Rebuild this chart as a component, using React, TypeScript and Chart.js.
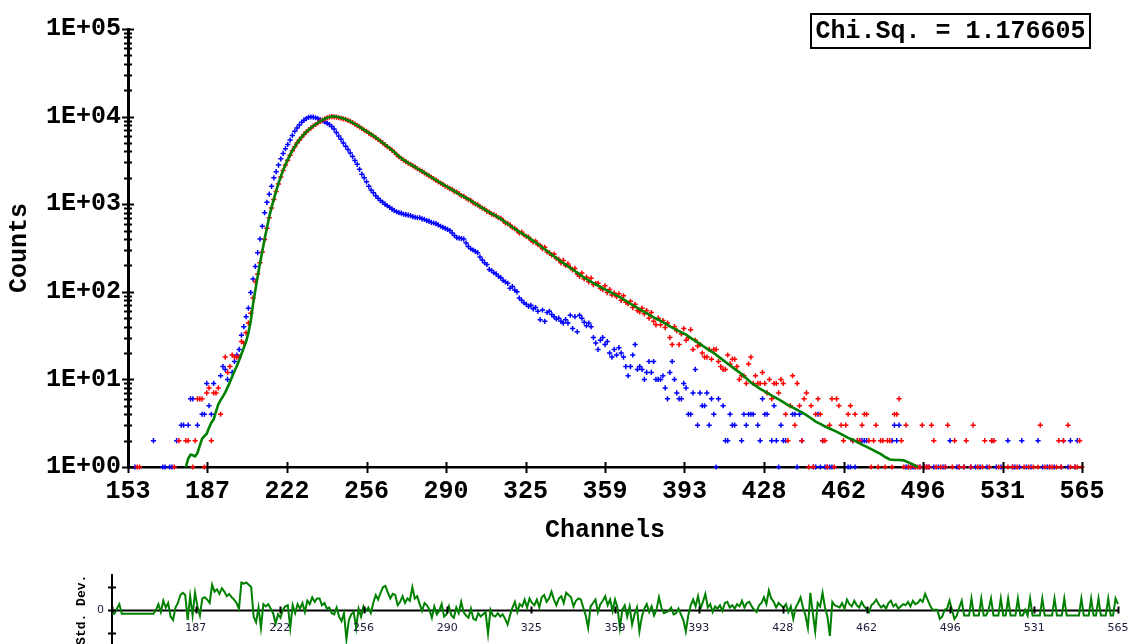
import React, { useEffect, useRef } from 'react';
import { Chart, registerables } from 'chart.js';
Chart.register(...registerables);

const FIRST_CHANNEL = 153;
const LAST_CHANNEL = 565;

const xTickValues = [153, 187.33, 221.67, 256, 290.33, 324.67, 359, 393.33, 427.67, 462, 496.33, 530.67, 565];
const xTickLabels = ['153', '187', '222', '256', '290', '325', '359', '393', '428', '462', '496', '531', '565'];
const yTickValues = [1, 10, 100, 1000, 10000, 100000];
const yTickLabels = ['1E+00', '1E+01', '1E+02', '1E+03', '1E+04', '1E+05'];
const resYTickValues = [-2, 0, 2];
const resYTickLabels = ['', '0', ''];
const chiSqText = 'Chi.Sq. = 1.176605';

// Instrument response (blue), one value per channel starting at 153
const irfCounts = [
  0, 0, 0, 1, 0, 0, 0, 0, 0, 0,
  0, 2, 0, 0, 0, 1, 1, 0, 1, 1,
  0, 2, 0, 3, 3, 0, 3, 6, 6, 0,
  3, 0, 4, 4, 9, 5, 4, 9, 0, 0,
  11, 14, 13, 10, 0, 12, 16, 19, 22, 32,
  40, 52, 65, 98, 140, 195, 280, 400, 560, 800,
  1050, 1300, 1600, 2000, 2350, 2800, 3300, 3800, 4300, 4800,
  5400, 6100, 6800, 7400, 8000, 8600, 9100, 9500, 9800, 9900,
  9850, 9700, 9500, 9200, 8950, 8700, 8400, 8100, 7700, 7200,
  6600, 6000, 5500, 5000, 4600, 4200, 3850, 3500, 3150, 2850,
  2500, 2200, 2000, 1800, 1600, 1450, 1350, 1250, 1170, 1100,
  1050, 1000, 960, 920, 880, 850, 820, 800, 790, 770,
  760, 750, 740, 720, 710, 700, 700, 680, 670, 650,
  640, 620, 610, 600, 580, 560, 545, 530, 515, 500,
  470, 440, 415, 410, 405, 400, 360, 330, 310, 300,
  290, 280, 250, 230, 215, 205, 180, 175, 165, 160,
  150, 145, 135, 130, 125, 110, 115, 105, 100, 85,
  80, 75, 72, 68, 70, 64, 66, 60, 48, 62,
  46, 58, 60, 55, 52, 49, 50, 46, 44, 48,
  44, 54, 38, 52, 35, 54, 50, 45, 41, 44,
  40, 30, 26, 22, 28, 30, 25, 27, 20, 18,
  22, 19, 23, 20, 18, 14, 11, 14, 19, 25,
  13, 14, 13, 10, 12, 16, 12, 16, 10, 10,
  10, 11, 8, 6, 12, 16, 10, 7, 6, 6,
  9, 8, 4, 4, 7, 13, 3, 7, 5, 5,
  7, 3, 6, 4, 1, 6, 0, 5, 2, 2,
  4, 3, 3, 0, 0, 2, 4, 3, 4, 4,
  4, 0, 3, 2, 6, 4, 4, 0, 2, 5,
  2, 1, 3, 2, 2, 0, 0, 4, 4, 1,
  4, 2, 0, 0, 0, 0, 1, 1, 4, 1,
  2, 1, 1, 1, 1, 0, 0, 0, 0, 0,
  0, 1, 1, 2, 1, 2, 2, 2, 2, 2,
  0, 0, 0, 0, 0, 0, 0, 0, 0, 0,
  2, 3, 2, 3, 0, 0, 1, 1, 1, 1,
  1, 0, 1, 0, 1, 1, 1, 0, 1, 0,
  1, 0, 1, 1, 0, 2, 0, 0, 1, 1,
  0, 1, 0, 0, 1, 0, 1, 0, 1, 0,
  0, 1, 0, 2, 0, 1, 0, 1, 0, 0,
  2, 0, 1, 1, 0, 1, 2, 0, 1, 0,
  1, 0, 0, 2, 0, 1, 0, 1, 1, 0,
  1, 0, 0, 1, 2, 0, 1, 2, 0, 1,
  2, 0, 0,
];

// Measured decay (red), one value per channel starting at 153
const decayCounts = [
  0, 0, 0, 0, 1, 1, 0, 0, 0, 0,
  0, 0, 0, 0, 0, 0, 0, 0, 0, 0,
  1, 0, 2, 0, 0, 2, 2, 0, 1, 2,
  6, 6, 6, 1, 7, 8, 2, 7, 7, 8,
  4, 0, 18, 12, 14, 19, 18, 18, 18, 27,
  26, 34, 44, 57, 85, 130, 160, 215, 285, 395,
  530, 700, 905, 1130, 1400, 1700, 2050, 2420, 2800, 3180,
  3620, 4080, 4520, 4980, 5400, 5830, 6260, 6680, 7050, 7420,
  7780, 8130, 8480, 8820, 9120, 9430, 9680, 9850, 9980, 9930,
  9850, 9700, 9580, 9420, 9260, 9050, 8800, 8520, 8200, 7900,
  7650, 7330, 7020, 6780, 6480, 6230, 5980, 5740, 5480, 5250,
  5000, 4780, 4540, 4340, 4140, 3930, 3690, 3480, 3340, 3190,
  3060, 2940, 2850, 2740, 2650, 2540, 2450, 2370, 2280, 2190,
  2110, 2040, 1950, 1880, 1800, 1740, 1680, 1610, 1570, 1500,
  1480, 1390, 1370, 1320, 1250, 1230, 1170, 1130, 1110, 1040,
  1010, 990, 935, 900, 880, 830, 815, 770, 760, 735,
  700, 690, 650, 610, 600, 580, 540, 530, 500, 470,
  480, 445, 430, 420, 390, 372, 380, 345, 340, 310,
  322, 285, 280, 262, 270, 240, 235, 214, 228, 200,
  208, 190, 178, 185, 160, 150, 164, 140, 147, 130,
  143, 121, 124, 125, 110, 106, 117, 98, 106, 92,
  97, 88, 95, 80, 90, 76, 73, 78, 66, 72,
  61, 59, 65, 56, 61, 50, 58, 46, 42, 50,
  42, 47, 39, 44, 30, 25, 40, 36, 25, 33,
  38, 28, 30, 37, 22, 28, 24, 25, 20, 18,
  18, 22, 17, 22, 22, 16, 14, 13, 13, 19,
  15, 17, 17, 14, 10, 11, 11, 9, 15, 18,
  9, 11, 9, 9, 12, 9, 7, 10, 6, 9,
  9, 7, 10, 9, 4, 2, 5, 11, 3, 9,
  5, 2, 6, 7, 1, 5, 1, 4, 6, 4,
  2, 2, 1, 3, 6, 1, 6, 5, 3, 2,
  3, 4, 5, 2, 4, 2, 2, 3, 4, 4,
  2, 1, 2, 3, 1, 2, 2, 1, 2, 2,
  1, 4, 4, 6, 2, 1, 3, 1, 1, 0,
  1, 1, 1, 3, 1, 1, 1, 3, 2, 1,
  0, 1, 0, 1, 3, 0, 1, 2, 0, 1,
  0, 1, 2, 0, 1, 3, 0, 1, 0, 1,
  2, 0, 1, 2, 2, 0, 1, 0, 1, 0,
  1, 0, 1, 0, 1, 0, 0, 1, 0, 1,
  0, 1, 0, 1, 3, 0, 1, 0, 1, 1,
  0, 1, 2, 1, 2, 0, 3, 1, 0, 1,
  1, 2, 1,
];

// Fitted curve (green)
const fitChannels = [
  178, 179, 180, 181, 182, 183, 184, 185, 186, 187, 188, 189, 190, 191, 192, 193, 194, 195, 196, 197,
  198, 199, 200, 201, 202, 203, 204, 205, 206, 207, 208, 209, 210, 211, 212, 213, 214, 215, 216, 217,
  218, 219, 220, 221, 222, 223, 224, 225, 226, 227, 228, 229, 230, 231, 232, 233, 234, 235, 236, 237,
  238, 239, 240, 241, 242, 243, 244, 245, 246, 247, 248, 249, 250, 251, 252, 253, 254, 255, 256, 257,
  258, 260, 262, 264, 266, 268, 270, 272, 274, 276, 278, 280, 282, 284, 286, 288, 290, 292, 294, 296,
  298, 300, 302, 304, 306, 308, 310, 312, 314, 316, 318, 320, 322, 324, 326, 328, 330, 332, 334, 336,
  338, 340, 342, 344, 346, 348, 350, 352, 354, 356, 358, 360, 362, 364, 366, 368, 370, 372, 374, 376,
  378, 380, 382, 384, 386, 388, 390, 392, 394, 396, 398, 400, 402, 404, 406, 408, 410, 412, 414, 416,
  418, 420, 422, 424, 426, 428, 430, 432, 434, 436, 438, 440, 442, 444, 446, 448, 450, 452, 454, 456,
  458, 460, 462, 464, 466, 468, 470, 472, 474, 476, 478, 480, 482, 484, 486, 488, 490, 492, 494,
];
const fitCounts = [
  1.0, 1.25, 1.38, 1.36, 1.32, 1.45, 1.75, 2.1, 2.25, 2.4, 2.8, 3.2, 3.5, 4.3, 5.2, 5.8, 6.4, 7.1, 8.1, 9.3,
  10.8, 12.5, 14.2, 16.5, 19.5, 23, 27, 34, 46, 72, 105, 150, 210, 290, 400, 540, 720, 920, 1150, 1420,
  1730, 2080, 2450, 2830, 3230, 3660, 4100, 4550, 5000, 5430, 5860, 6280, 6700, 7080, 7450, 7800, 8150, 8500, 8850, 9150,
  9450, 9700, 9900, 10020, 10050, 9980, 9850, 9680, 9500, 9300, 9100, 8820, 8550, 8230, 7920, 7640, 7350, 7070, 6800, 6550,
  6300, 5800, 5270, 4800, 4350, 3950, 3520, 3210, 2960, 2750, 2550, 2380, 2200, 2030, 1880, 1750, 1630, 1515, 1410, 1303,
  1220, 1143, 1060, 977, 906, 840, 782, 730, 679, 622, 571, 525, 484, 450, 416, 382, 351, 320, 292, 266,
  243, 222, 204, 188, 173, 158, 145, 135, 126, 118, 110, 103, 97, 91, 85, 79, 73, 68, 63, 59,
  55, 51, 48, 45, 42, 39, 36.7, 34.5, 32.4, 29.8, 27.5, 25.4, 23.4, 21.6, 20, 18.2, 16.6, 15.1, 13.8, 12.6,
  11.5, 10.3, 9.2, 8.5, 7.8, 7.3, 6.8, 6.3, 5.9, 5.5, 5.1, 4.8, 4.5, 4.2, 3.9, 3.6, 3.3, 3.1, 2.9, 2.75,
  2.6, 2.45, 2.3, 2.15, 2.05, 1.92, 1.8, 1.7, 1.6, 1.5, 1.41, 1.3, 1.22, 1.2, 1.2, 1.19, 1.13, 1.07, 1.0,
];

// Weighted residuals (std. dev.), one value per channel starting at 153
const residuals = [
  -0.35, -0.35, 0.1, 0.5, -0.35, -0.35, -0.35, -0.35, -0.35, -0.35,
  -0.35, -0.35, -0.35, -0.35, -0.35, -0.35, -0.35, -0.35, 0.0, 0.5,
  -0.2, 0.8, 0.2, 0.6, -0.6, -0.9, 0.2, 0.6, 1.3, 1.5,
  1.3, -0.9, 1.2, -0.5, 1.5, 0.3, -0.5, 1.0, 1.1, 0.9,
  0.6, 2.2, 1.6, 1.8, 1.4, 1.9, 1.6, 1.2, 1.4, 1.1,
  0.9, 0.6, 0.1, 2.4, 2.3, 2.4, 2.2, 2.0, -0.6, -1.1,
  0.2, -1.6, 0.5, 0.3, 0.5, 0.1, -0.3, -1.2, -0.4, -0.7,
  0.0, 0.3, 0.4, -1.6, 0.4, -0.3, 0.5, 0.1, 0.6, -0.2,
  0.8, 0.5, 1.1, 0.7, 1.0, 1.0, 0.4, 0.6, 0.1, 0.2,
  -0.3, -0.4, 0.2, -0.6, -1.0, -0.3, -2.6, -0.9, -0.4, -0.2,
  -1.6, 0.1, -0.6, 0.3, -0.1, 0.2, -0.3, 0.6, 1.3, 0.9,
  1.5, 2.0, 2.1, 1.5, 1.0, 1.4, 1.3, 0.4, 0.7, 1.2,
  0.6, 1.0, 0.8, 2.0, 1.0, 1.2, 0.5, -0.1, 0.6, 0.4,
  0.0, -0.7, 0.3, -0.4, -0.1, 0.5, -0.6, -0.4, 0.3, -0.5,
  -0.7, 0.2, -0.3, 0.7, -0.2, -0.5, -0.7, 0.1, -0.8, -0.9,
  -0.3, -0.6, -0.4, -0.2, -2.1, 0.0, -0.5, -0.6, -0.3, -0.6,
  -0.4, -0.8, -1.3, -0.5, 0.2, 0.7, -0.2, 0.5, 0.3, 0.9,
  0.2, 1.0, 0.6, 0.4, 0.9, 0.2, 1.1, 1.3, 0.7, 1.0,
  1.6, 0.9, 0.4, 1.0, 1.2, 0.6, 1.5, 1.3, 1.1, 0.3,
  0.8, 1.0, 0.9, 0.2, -0.5, -1.6, 0.3, 0.6, 0.9, -0.2,
  0.5, 0.8, 1.2, 0.4, 0.9, -0.1, 0.9, 0.2, -1.6, 0.0,
  0.4, -0.6, 0.3, -1.3, -0.4, 0.2, -1.9, -0.6, 0.1, 0.5,
  -0.2, 0.3, -0.5, 0.0, 1.1, 0.2, -0.3, -0.2, -0.1, 0.2,
  -0.4, -0.3, 0.1, -0.4, -0.9, -1.9, -0.5, 0.4, 0.9, 0.3,
  1.2, 0.1, 0.7, 1.4, 0.2, 0.5, -0.2, 0.3, 0.1, 0.4,
  -0.1, 0.6, 0.7, 0.2, 0.4, 0.1, 0.5, 0.3, 0.8, 0.2,
  0.6, 0.7, 0.3, 0.0, -0.2, 0.4, 0.6, 1.1, 0.5, 1.7,
  1.0, 0.7, 0.2, 0.6, 0.4, 0.2, 0.5, -0.2, 0.3, -0.8,
  0.2, 0.6, 1.1, 0.2, -0.5, -1.6, 1.5, -0.3, -1.9, 0.6,
  0.3, 1.5, 0.2, -0.6, -2.3, 0.7, 0.4, 0.3, 0.2, 0.6,
  0.1, 0.9, 0.5, 0.3, 0.8, 0.4, 0.2, 0.7, 0.3, 0.1,
  -0.2, 0.4, 0.6, 0.9, 0.5, 0.2, 0.4, 0.1, 0.6, 0.8,
  0.3, 0.5, 0.1, 0.3, 0.5, 0.4, 0.7, 0.3, 0.8, 0.5,
  0.6, 0.9, 0.7, 1.4, 0.9, 0.4, 0.0, 0.0, 0.0, -0.8,
  -0.6, 0.0, 0.1, 0.8, 0.0, -0.8, -0.5, 0.2, 0.8, -0.5,
  -0.5, -0.5, 1.0, -0.5, -0.5, -0.5, 1.0, -0.5, -0.5, 0.0,
  1.0, -0.5, -0.5, -0.5, 1.0, -0.5, -0.5, 1.0, -0.5, -0.5,
  -0.5, 1.0, -0.5, -0.5, 0.0, -0.5, 1.0, -0.5, -0.5, -0.5,
  -0.5, 1.0, -0.5, -0.5, -0.5, -0.5, 1.0, -0.5, -0.5, -0.5,
  1.0, -0.5, -0.5, -0.5, -0.5, -0.5, -0.5, 1.0, -0.5, -0.5,
  -0.5, 1.0, -0.5, -0.5, 1.0, -0.5, -0.5, -0.5, 1.0, -0.5,
  -0.5, 1.0, 0.5,
];

const MONO = '"Liberation Mono", "Courier New", monospace';
const GREEN = '#008000';

const countPoints = (arr: number[]) =>
  arr
    .map((v, i) => ({ x: FIRST_CHANNEL + i, y: v }))
    .filter((p) => p.y > 0);

const mainDecor = {
  id: 'mainDecor',
  afterDraw(chart: any) {
    const { ctx, scales } = chart;
    const x = scales.x;
    const y = scales.y;
    ctx.save();
    ctx.strokeStyle = '#000';
    ctx.lineWidth = 2;
    const yb = y.getPixelForValue(yTickValues[0]);
    xTickValues.forEach((v) => {
      const px = Math.round(x.getPixelForValue(v)) + 0.5;
      ctx.beginPath();
      ctx.moveTo(px, yb - 5);
      ctx.lineTo(px, yb + 6);
      ctx.stroke();
    });
    const xl = x.getPixelForValue(FIRST_CHANNEL);
    for (let d = 0; d < yTickValues.length; d++) {
      const base = yTickValues[d];
      const top = d === yTickValues.length - 1 ? 1 : 9;
      for (let m = 1; m <= top; m++) {
        const py = Math.round(y.getPixelForValue(base * m)) + 0.5;
        const half = m === 1 ? 6 : 4;
        ctx.beginPath();
        ctx.moveTo(xl - half, py);
        ctx.lineTo(xl + half, py);
        ctx.stroke();
      }
    }
    // Chi-square box
    ctx.lineWidth = 2;
    ctx.strokeRect(811, 14, 279, 34);
    ctx.fillStyle = '#000';
    ctx.font = `bold 25px ${MONO}`;
    ctx.textAlign = 'center';
    ctx.textBaseline = 'middle';
    ctx.fillText(chiSqText, 950.5, 31.5);
    ctx.restore();
  },
};

const resDecor = {
  id: 'resDecor',
  beforeDatasetsDraw(chart: any) {
    const { ctx, scales } = chart;
    const x = scales.x;
    const y = scales.y;
    const y0 = Math.round(y.getPixelForValue(0)) + 0.5;
    ctx.save();
    ctx.strokeStyle = '#000';
    ctx.lineWidth = 2;
    ctx.beginPath();
    ctx.moveTo(x.getPixelForValue(FIRST_CHANNEL), y0);
    ctx.lineTo(x.getPixelForValue(LAST_CHANNEL), y0);
    ctx.stroke();
    ctx.restore();
  },
  afterDraw(chart: any) {
    const { ctx, scales } = chart;
    const x = scales.x;
    const y = scales.y;
    const y0 = Math.round(y.getPixelForValue(0)) + 0.5;
    ctx.save();
    ctx.strokeStyle = '#000';
    ctx.lineWidth = 2;
    xTickValues.forEach((v) => {
      const px = Math.round(x.getPixelForValue(v)) + 0.5;
      ctx.beginPath();
      ctx.moveTo(px, y0 - 4);
      ctx.lineTo(px, y0 + 3);
      ctx.stroke();
    });
    const xl = x.getPixelForValue(FIRST_CHANNEL);
    resYTickValues.forEach((v) => {
      const py = Math.round(y.getPixelForValue(v)) + 0.5;
      ctx.beginPath();
      ctx.moveTo(xl - 4, py);
      ctx.lineTo(xl + 4, py);
      ctx.stroke();
    });
    ctx.fillStyle = '#1c1c3c';
    ctx.font = '11px "DejaVu Sans", Verdana, sans-serif';
    ctx.textAlign = 'center';
    ctx.textBaseline = 'middle';
    xTickValues.forEach((v, i) => {
      if (i === 0) return;
      ctx.fillText(xTickLabels[i], x.getPixelForValue(v), y0 + 18);
    });
    ctx.restore();
  },
};

export default function App() {
  const mainRef = useRef<HTMLCanvasElement>(null);
  const resRef = useRef<HTMLCanvasElement>(null);

  useEffect(() => {
    const main = new Chart(mainRef.current as HTMLCanvasElement, {
      type: 'scatter',
      data: {
        datasets: [
          {
            label: 'Fit',
            data: fitChannels.map((c, i) => ({ x: c, y: fitCounts[i] })),
            showLine: true,
            borderColor: GREEN,
            backgroundColor: GREEN,
            borderWidth: 2.6,
            pointRadius: 0,
            tension: 0,
            order: 0,
            clip: false,
          } as any,
          {
            label: 'Decay',
            data: countPoints(decayCounts),
            showLine: false,
            pointStyle: 'cross',
            pointRadius: 2.6,
            borderColor: '#ff0000',
            backgroundColor: '#ff0000',
            borderWidth: 1.5,
            order: 1,
            clip: false,
          } as any,
          {
            label: 'IRF',
            data: countPoints(irfCounts),
            showLine: false,
            pointStyle: 'cross',
            pointRadius: 2.6,
            borderColor: '#0000ff',
            backgroundColor: '#0000ff',
            borderWidth: 1.5,
            order: 2,
            clip: false,
          } as any,
        ],
      },
      options: {
        responsive: false,
        animation: false,
        devicePixelRatio: 1,
        events: [],
        layout: { padding: { left: 0, right: 51, top: 29, bottom: 0 } },
        plugins: { legend: { display: false }, tooltip: { enabled: false } },
        scales: {
          x: {
            type: 'linear',
            position: 'bottom',
            min: FIRST_CHANNEL,
            max: LAST_CHANNEL,
            afterBuildTicks: (s: any) => {
              s.ticks = xTickValues.map((v) => ({ value: v }));
            },
            afterFit: (s: any) => {
              s.height = 93;
            },
            ticks: {
              autoSkip: false,
              maxRotation: 0,
              minRotation: 0,
              padding: 10,
              color: '#000',
              font: { family: MONO, size: 25, weight: 'bold' },
              callback: (_v: any, i: number) => xTickLabels[i],
            },
            grid: { display: false, drawTicks: false },
            border: { display: true, color: '#000', width: 2.5 },
            title: {
              display: true,
              text: 'Channels',
              color: '#000',
              font: { family: MONO, size: 25, weight: 'bold' },
              padding: { top: 0, bottom: 14 },
            },
          },
          y: {
            type: 'logarithmic',
            min: yTickValues[0],
            max: yTickValues[yTickValues.length - 1],
            afterBuildTicks: (s: any) => {
              s.ticks = yTickValues.map((v) => ({ value: v, major: true }));
            },
            afterFit: (s: any) => {
              s.width = 128;
            },
            ticks: {
              autoSkip: false,
              padding: 7,
              color: '#000',
              font: { family: MONO, size: 25, weight: 'bold' },
              callback: (_v: any, i: number) => yTickLabels[i],
            },
            grid: { display: false, drawTicks: false },
            border: { display: true, color: '#000', width: 3 },
            title: {
              display: true,
              text: 'Counts',
              color: '#000',
              font: { family: MONO, size: 25, weight: 'bold' },
              padding: { top: 5, bottom: 0 },
            },
          },
        },
      } as any,
      plugins: [mainDecor],
    });

    const res = new Chart(resRef.current as HTMLCanvasElement, {
      type: 'scatter',
      data: {
        datasets: [
          {
            label: 'Residuals',
            data: residuals.map((r, i) => ({ x: FIRST_CHANNEL + i, y: r })),
            showLine: true,
            borderColor: GREEN,
            backgroundColor: GREEN,
            borderWidth: 2,
            pointRadius: 0,
            tension: 0,
            clip: false,
          } as any,
        ],
      },
      options: {
        responsive: false,
        animation: false,
        devicePixelRatio: 1,
        events: [],
        layout: { padding: { left: 0, right: 15, top: 11, bottom: 15 } },
        plugins: { legend: { display: false }, tooltip: { enabled: false } },
        scales: {
          x: {
            type: 'linear',
            display: false,
            min: FIRST_CHANNEL,
            max: LAST_CHANNEL,
          },
          y: {
            type: 'linear',
            min: -3.1,
            max: 3.1,
            afterBuildTicks: (s: any) => {
              s.ticks = resYTickValues.map((v) => ({ value: v }));
            },
            afterFit: (s: any) => {
              s.width = 112;
            },
            ticks: {
              autoSkip: false,
              padding: 8,
              color: '#1c1c3c',
              font: { family: '"DejaVu Sans", Verdana, sans-serif', size: 11 },
              callback: (_v: any, i: number) => resYTickLabels[i],
            },
            grid: { display: false, drawTicks: false },
            border: { display: true, color: '#000', width: 2 },
            title: {
              display: true,
              text: 'Std. Dev.',
              color: '#000',
              font: { family: MONO, size: 13, weight: 'bold' },
              padding: { top: 74, bottom: 0 },
            },
          },
        },
      } as any,
      plugins: [resDecor],
    });

    return () => {
      main.destroy();
      res.destroy();
    };
  }, []);

  return (
    <div
      style={{
        position: 'absolute',
        left: 0,
        top: 0,
        width: 1133,
        height: 644,
        overflow: 'hidden',
        background: '#fff',
      }}
    >
      <canvas
        ref={mainRef}
        width={1133}
        height={560}
        style={{ position: 'absolute', left: 0, top: 0, width: 1133, height: 560 }}
      />
      <canvas
        ref={resRef}
        width={1133}
        height={100}
        style={{ position: 'absolute', left: 0, top: 560, width: 1133, height: 100 }}
      />
    </div>
  );
}
